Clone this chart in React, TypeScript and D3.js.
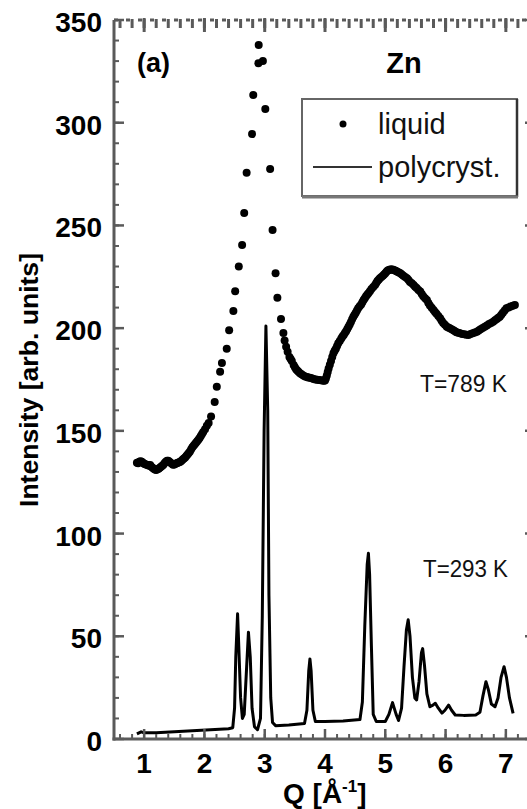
import React from "react";
import * as d3 from "d3";

// ---- Data ----
const liquidQ = [
  0.88, 0.9, 0.92, 0.94, 0.96, 0.98, 1.0, 1.02, 1.04, 1.06, 1.08, 1.1, 1.12, 1.14, 1.16, 1.18,
  1.2, 1.22, 1.24, 1.26, 1.28, 1.3, 1.32, 1.34, 1.36, 1.38, 1.4, 1.42, 1.44, 1.46, 1.48, 1.5,
  1.52, 1.54, 1.56, 1.58, 1.6, 1.62, 1.64, 1.66, 1.68, 1.7, 1.72, 1.74, 1.76, 1.78, 1.8, 1.82,
  1.84, 1.86, 1.88, 1.9, 1.92, 1.94, 1.96, 1.98, 2.01, 2.04, 2.07, 2.11,
  2.17, 2.205, 2.26, 2.29, 2.37, 2.41, 2.48, 2.51, 2.57, 2.625, 2.66, 2.7, 2.79, 2.81, 2.895,
  2.9, 2.97, 3.01, 3.09, 3.13, 3.18, 3.21, 3.27, 3.31,
  3.33, 3.355, 3.38, 3.41, 3.43, 3.45, 3.48, 3.5, 3.52, 3.54, 3.56, 3.585, 3.61, 3.64, 3.67, 3.7,
  3.72, 3.75, 3.78, 3.81, 3.84, 3.87, 3.9, 3.93, 3.96, 3.98, 4.0, 4.015, 4.03, 4.045, 4.06, 4.08,
  4.1, 4.12, 4.14, 4.16, 4.18, 4.2, 4.22, 4.245, 4.27, 4.29, 4.31, 4.33, 4.35, 4.37, 4.39, 4.41,
  4.43, 4.45, 4.47, 4.49, 4.51, 4.53, 4.55, 4.575, 4.6, 4.62, 4.64, 4.66, 4.68, 4.7, 4.72, 4.745,
  4.77, 4.8, 4.83, 4.85, 4.87, 4.89, 4.91, 4.935, 4.96, 4.98, 5.0, 5.02, 5.04, 5.06, 5.08, 5.1,
  5.12, 5.14, 5.16, 5.18, 5.2, 5.225, 5.25, 5.275, 5.3, 5.33, 5.36, 5.385, 5.41, 5.44, 5.47, 5.495,
  5.52, 5.55, 5.58, 5.605, 5.63, 5.66, 5.69, 5.715, 5.74, 5.77, 5.8, 5.825, 5.85, 5.88, 5.91, 5.935,
  5.96, 5.99, 6.02, 6.045, 6.07, 6.1, 6.13, 6.155, 6.18, 6.21, 6.24, 6.275, 6.31, 6.345, 6.38, 6.415,
  6.45, 6.485, 6.52, 6.55, 6.58, 6.615, 6.65, 6.685, 6.72, 6.755, 6.79, 6.82, 6.85, 6.875, 6.9, 6.925,
  6.95, 6.98, 7.01, 7.045, 7.08, 7.115, 7.15,
];
const liquidI = [
  134.5, 134.2, 135, 135.2, 135, 134.5, 134, 133.8, 133.5, 133.4, 133, 133.4, 132.5, 132, 131.5, 131.2,
  131, 131.3, 131.5, 132, 132.5, 133, 133.5, 134.3, 135, 135.4, 135.5, 135, 134.5, 134, 133.5, 133.6,
  134, 134.2, 134.5, 134.7, 135, 135.5, 136, 136.5, 137, 137.8, 138.5, 139.2, 140, 141, 142, 142.8,
  143.5, 144.2, 145, 145.7, 146.5, 147.5, 148.5, 149.5, 150.8, 152.5, 153.8, 157,
  164, 171.5, 178.8, 183, 190, 199, 208.3, 218, 230, 240.5, 256, 275.7, 294.5, 313.5, 329,
  337.8, 330, 306.7, 277.5, 247.8, 226.7, 214.8, 204.5, 197.6,
  194, 191, 188.5, 186, 185, 184, 182, 181, 180, 179.4, 178.8, 178, 177.5, 177, 176.4, 176.2,
  176, 175.8, 175.6, 175.3, 175, 174.9, 174.8, 174.6, 174.5, 174.4, 174.5, 175.5, 177, 178.7, 180.4, 182.2,
  184, 186, 187.8, 189, 190, 191.3, 192.6, 193.8, 195, 195.9, 196.7, 197.6, 198.5, 199.6, 200.7, 201.8,
  203, 204.3, 205.6, 206.5, 207.5, 208.6, 209.7, 210.6, 211.5, 212.6, 213.7, 214.6, 215.5, 216.2, 217, 218,
  219, 220, 221, 222, 223, 223.6, 224.3, 224.9, 225.5, 226.1, 226.7, 227.4, 228, 228.3, 228.6, 228.6,
  228.5, 228.3, 228, 227.8, 227.5, 227.1, 226.7, 226.1, 225.5, 224.9, 224.3, 223.4, 222.5, 221.8, 221, 220.2,
  219.5, 218.6, 217.8, 216.6, 215.5, 214.6, 213.7, 212.3, 211, 209.9, 208.8, 207.9, 207, 205.9, 204.8, 203.6,
  202.5, 201.6, 200.7, 200.3, 200, 199.5, 199, 198.5, 198, 197.7, 197.5, 197.2, 197, 196.8, 196.7, 197.1,
  197.5, 197.9, 198.3, 198.9, 199.5, 200.1, 200.7, 201.3, 202, 202.5, 203.1, 203.8, 204.5, 205, 205.6, 206.5,
  207.5, 208.6, 209.7, 210.1, 210.5, 210.9, 211.3,
];

const polyQ = [
  0.88, 0.95, 1.0, 1.2, 1.5, 1.8, 2.1, 2.4, 2.47, 2.5, 2.52, 2.55, 2.57, 2.6, 2.63, 2.66, 2.7,
  2.73, 2.76, 2.79, 2.83, 2.88, 2.93, 2.96, 2.99, 3.02, 3.05, 3.07, 3.1, 3.13, 3.18, 3.4, 3.66,
  3.7, 3.73, 3.75, 3.77, 3.8, 3.84, 4.0, 4.3, 4.58, 4.62, 4.66, 4.7, 4.72, 4.74, 4.77, 4.8,
  4.85, 5.0, 5.06, 5.12, 5.18, 5.22, 5.27, 5.31, 5.35, 5.38, 5.41, 5.45, 5.49, 5.52, 5.56, 5.6,
  5.62, 5.65, 5.69, 5.74, 5.79, 5.83, 5.88, 5.94, 5.99, 6.05, 6.1, 6.16, 6.3, 6.5, 6.57, 6.62,
  6.67, 6.71, 6.76, 6.82, 6.87, 6.92, 6.97, 7.01, 7.06, 7.12,
];
const polyI = [
  2.5, 3.5, 3, 3, 3.5, 4, 4.5, 5, 5.5, 15, 40, 61, 45, 20, 10, 12, 35,
  52, 40, 15, 6, 4.5, 10, 60, 150, 201, 160, 70, 20, 8, 6.5, 6.8, 7.5,
  14, 33, 39, 33, 14, 8.5, 8.5, 8.8, 9.5, 18, 55, 85, 90.4, 80, 45, 12,
  8.5, 8.5, 12, 17.7, 12, 9, 15, 35, 53, 58, 50, 30, 20, 19, 28, 42,
  44, 36, 22, 15.7, 16.5, 17.4, 15, 12.6, 14, 16.5, 14, 11.7, 11.5, 11.7, 13, 21,
  27.9, 24, 17, 15.7, 20, 30, 35.2, 30, 20, 12.5,
];

const yTickValues = [0, 50, 100, 150, 200, 250, 300, 350];
const yTickLabels = ["0", "50", "100", "150", "200", "250", "300", "350"];
const xTickValues = [1, 2, 3, 4, 5, 6, 7];
const xTickLabels = ["1", "2", "3", "4", "5", "6", "7"];
const legendLabels = ["liquid", "polycryst."];
const tempLabels = ["T=789 K", "T=293 K"];

export default function App() {
  const W = 527;
  const H = 809;
  const x = d3.scaleLinear().domain([0.5, 7.5]).range([114, 536]);
  const y = d3.scaleLinear().domain([0, 350]).range([739, 20]);
  const axisColor = "#5a5a5a";

  const liquid = liquidQ.map((q, i) => [q, liquidI[i]] as [number, number]);
  const poly = polyQ.map((q, i) => [q, polyI[i]] as [number, number]);
  const lineGen = d3
    .line<[number, number]>()
    .x((d) => x(d[0]))
    .y((d) => y(d[1]));

  const yMinor = d3.range(0, 351, 10);
  const xMinor = d3.range(0.6, 7.5, 0.2).map((v) => +v.toFixed(2));
  const x0 = x(0.5);
  const x1 = x(7.5);
  const y0 = y(0);
  const y1 = y(350);
  const font = "'Liberation Sans', Arial, Helvetica, sans-serif";

  return (
    <svg
      width={W}
      height={H}
      style={{ position: "absolute", left: 0, top: 0, background: "#fff" }}
      fontFamily={font}
    >
      <rect x={0} y={0} width={W} height={H} fill="#fff" />
      {/* polycrystal line */}
      <path d={lineGen(poly) || ""} fill="none" stroke="#000" strokeWidth={3} strokeLinejoin="round" />
      {/* liquid points */}
      {liquid.map((d, i) => (
        <circle key={i} cx={x(d[0])} cy={y(d[1])} r={4} fill="#000" />
      ))}

      {/* left axis */}
      <line x1={x0} x2={x0} y1={y1} y2={y0 + 1.5} stroke={axisColor} strokeWidth={3} />
      {yMinor.map((v) => (
        <line key={"ym" + v} x1={x0} x2={x0 + 5} y1={y(v)} y2={y(v)} stroke={axisColor} strokeWidth={2} />
      ))}
      {yTickValues.map((v) => (
        <line key={"yM" + v} x1={x0} x2={x0 + 10} y1={y(v)} y2={y(v)} stroke={axisColor} strokeWidth={2.5} />
      ))}
      {/* right axis (mostly outside of view) */}
      <line x1={x1} x2={x1} y1={y1} y2={y0} stroke={axisColor} strokeWidth={3} />
      {yTickValues.map((v) => (
        <line key={"yr" + v} x1={x1} x2={x1 - 11} y1={y(v)} y2={y(v)} stroke={axisColor} strokeWidth={2.5} />
      ))}
      {/* bottom axis */}
      <line x1={x0 - 1.5} x2={x1} y1={y0} y2={y0} stroke={axisColor} strokeWidth={3} />
      {xMinor.map((v) => (
        <line key={"xm" + v} x1={x(v)} x2={x(v)} y1={y0} y2={y0 - 5} stroke={axisColor} strokeWidth={2} />
      ))}
      {xTickValues.map((v) => (
        <line key={"xM" + v} x1={x(v)} x2={x(v)} y1={y0} y2={y0 - 10} stroke={axisColor} strokeWidth={2.5} />
      ))}
      {/* top axis (dotted look) */}
      <line x1={x0} x2={x1} y1={y1} y2={y1} stroke={axisColor} strokeWidth={3} strokeDasharray="4 8" />
      {xMinor.map((v) => (
        <line key={"tm" + v} x1={x(v)} x2={x(v)} y1={y1 - 1} y2={y1 + 8} stroke={axisColor} strokeWidth={3} />
      ))}
      {xTickValues.map((v) => (
        <line key={"tM" + v} x1={x(v)} x2={x(v)} y1={y1 - 2} y2={y1 + 12} stroke={axisColor} strokeWidth={3} />
      ))}

      {/* y tick labels */}
      {yTickValues.map((v, i) => (
        <text
          key={"yl" + v}
          x={102}
          y={y(v) + 12}
          textAnchor="end"
          fontSize={28}
          fontWeight="bold"
          fill="#000"
        >
          {yTickLabels[i]}
        </text>
      ))}
      {/* x tick labels */}
      {xTickValues.map((v, i) => (
        <text key={"xl" + v} x={x(v)} y={773} textAnchor="middle" fontSize={28} fontWeight="bold" fill="#000">
          {xTickLabels[i]}
        </text>
      ))}

      {/* axis titles */}
      <text
        transform={`translate(38,380) rotate(-90)`}
        textAnchor="middle"
        fontSize={25}
        fontWeight="bold"
        fill="#000"
        textLength={254}
        lengthAdjust="spacingAndGlyphs"
      >
        Intensity [arb. units]
      </text>
      <text x={283} y={803} fontSize={28} fontWeight="bold" fill="#000">
        Q [Å
        <tspan fontSize={17} dy={-11}>-1</tspan>
        <tspan dy={11}>]</tspan>
      </text>

      {/* annotations */}
      <text x={137} y={72} fontSize={27} fontWeight="bold" fill="#000">(a)</text>
      <text x={404} y={73} textAnchor="middle" fontSize={29} fontWeight="bold" fill="#000">Zn</text>
      <text x={420} y={392} fontSize={23} fill="#111" textLength={87} lengthAdjust="spacingAndGlyphs">
        {tempLabels[0]}
      </text>
      <text x={423} y={577} fontSize={23} fill="#111" textLength={85} lengthAdjust="spacingAndGlyphs">
        {tempLabels[1]}
      </text>

      {/* legend */}
      <rect x={302} y={99} width={215} height={97} fill="#fff" stroke="#666" strokeWidth={2} />
      <line x1={517} x2={517} y1={99} y2={197} stroke="#333" strokeWidth={2.5} />
      <line x1={302} x2={518} y1={197} y2={197} stroke="#777" strokeWidth={3} />
      <circle cx={343} cy={124} r={3.5} fill="#000" />
      <text x={378} y={134} fontSize={29} fill="#111">{legendLabels[0]}</text>
      <line x1={313} x2={372} y1={167} y2={167} stroke="#333" strokeWidth={2} />
      <text x={378} y={177} fontSize={29} fill="#111">{legendLabels[1]}</text>
    </svg>
  );
}
